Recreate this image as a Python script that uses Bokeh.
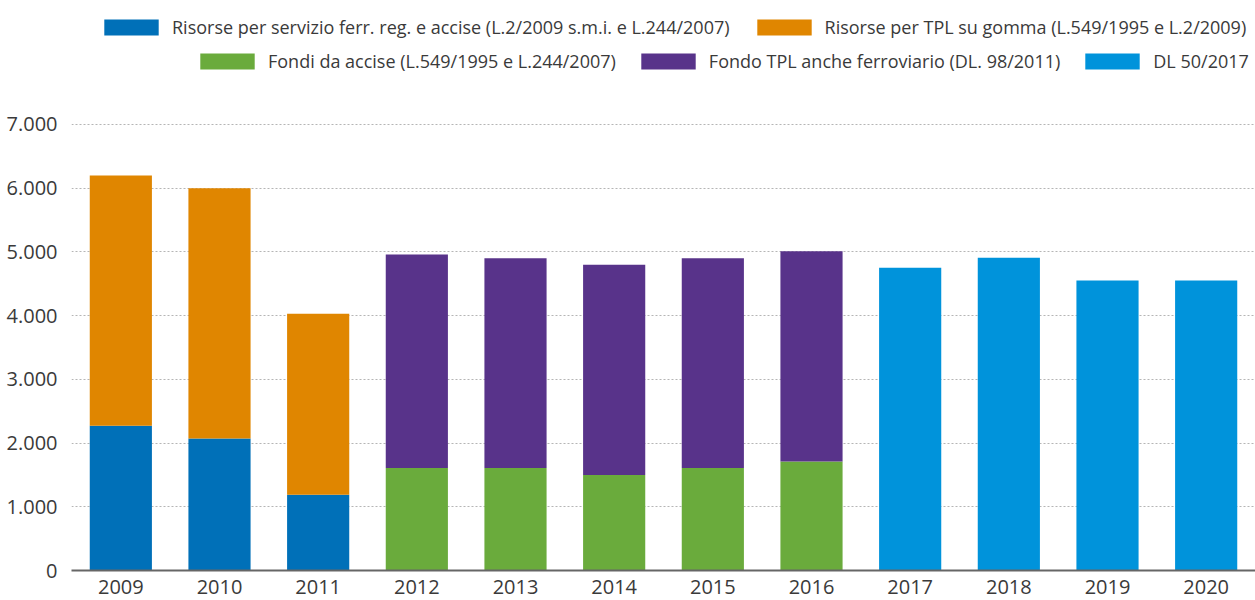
from bokeh.plotting import figure
from bokeh.models import Legend, LegendItem, FixedTicker, FactorRange, Range1d
from bokeh.embed import file_html
from bokeh.resources import INLINE

years = ["2009", "2010", "2011", "2012", "2013", "2014", "2015", "2016",
         "2017", "2018", "2019", "2020"]
ferr_reg = [2270, 2070, 1190, 0, 0, 0, 0, 0, 0, 0, 0, 0]
tpl_gomma = [3930, 3930, 2840, 0, 0, 0, 0, 0, 0, 0, 0, 0]
fondi_accise = [0, 0, 0, 1610, 1610, 1500, 1610, 1710, 0, 0, 0, 0]
fondo_tpl = [0, 0, 0, 3350, 3290, 3300, 3290, 3300, 0, 0, 0, 0]
dl50 = [0, 0, 0, 0, 0, 0, 0, 0, 4750, 4910, 4550, 4550]

series = ["ferr_reg", "tpl_gomma", "fondi_accise", "fondo_tpl", "dl50"]
labels = [
    "Risorse per servizio ferr. reg. e accise (L.2/2009 s.m.i. e L.244/2007)",
    "Risorse per TPL su gomma (L.549/1995 e L.2/2009)",
    "Fondi da accise (L.549/1995 e L.244/2007)",
    "Fondo TPL anche ferroviario (DL. 98/2011)",
    "DL 50/2017",
]
colors = ["#0070B8", "#E08600", "#6AAB3C", "#58338A", "#0093DB"]

y_ticks = [0, 1000, 2000, 3000, 4000, 5000, 6000, 7000]
y_tick_labels = ["0", "1.000", "2.000", "3.000", "4.000", "5.000", "6.000", "7.000"]

FONT = "Open Sans"

data = dict(years=years, ferr_reg=ferr_reg, tpl_gomma=tpl_gomma,
            fondi_accise=fondi_accise, fondo_tpl=fondo_tpl, dl50=dl50)

p = figure(x_range=FactorRange(*years, range_padding=0), y_range=Range1d(0, 8946),
           width=1255, height=600, output_backend="svg", toolbar_location=None,
           min_border_left=71, min_border_right=0, min_border_top=0, min_border_bottom=30)

renderers = p.vbar_stack(series, x="years", width=0.63, color=colors,
                         line_color=None, source=data)

p.outline_line_color = None
p.background_fill_color = "white"
p.xgrid.grid_line_color = None
p.ygrid.grid_line_color = "#b5b5b5"
p.ygrid.grid_line_dash = "2 2"
p.ygrid.grid_line_width = 1
p.ygrid.ticker = FixedTicker(ticks=y_ticks)

p.yaxis.ticker = FixedTicker(ticks=y_ticks)
p.yaxis.major_label_overrides = {t: l for t, l in zip(y_ticks, y_tick_labels)}
p.yaxis.axis_line_color = None
p.yaxis.major_tick_line_color = None
p.yaxis.minor_tick_line_color = None
p.yaxis.major_label_standoff = 8
p.yaxis.major_label_text_font = FONT
p.yaxis.major_label_text_font_size = "20px"
p.yaxis.major_label_text_color = "#3a3a3a"

p.xaxis.axis_line_color = "#666666"
p.xaxis.axis_line_width = 2
p.xaxis.major_tick_line_color = None
p.xaxis.major_tick_out = 0
p.xaxis.major_label_standoff = 9
p.xaxis.major_label_text_font = FONT
p.xaxis.major_label_text_font_size = "20px"
p.xaxis.major_label_text_color = "#3a3a3a"

def make_legend(idx, loc, spacing):
    items = [LegendItem(label=labels[i], renderers=[renderers[i]]) for i in idx]
    return Legend(items=items, orientation="horizontal", location=loc,
                  glyph_width=68, glyph_height=20, label_standoff=7, spacing=spacing,
                  label_text_font=FONT, label_text_font_size="18px",
                  label_text_color="#3a3a3a", label_height=20,
                  padding=5, margin=0, border_line_color=None,
                  background_fill_alpha=0)

leg1 = make_legend([0, 1], (26, 531), 20)
leg2 = make_legend([2, 3, 4], (122, 497), 18)
p.add_layout(leg1, "center")
p.add_layout(leg2, "center")

open("out.html", "w").write(file_html(p, INLINE))
